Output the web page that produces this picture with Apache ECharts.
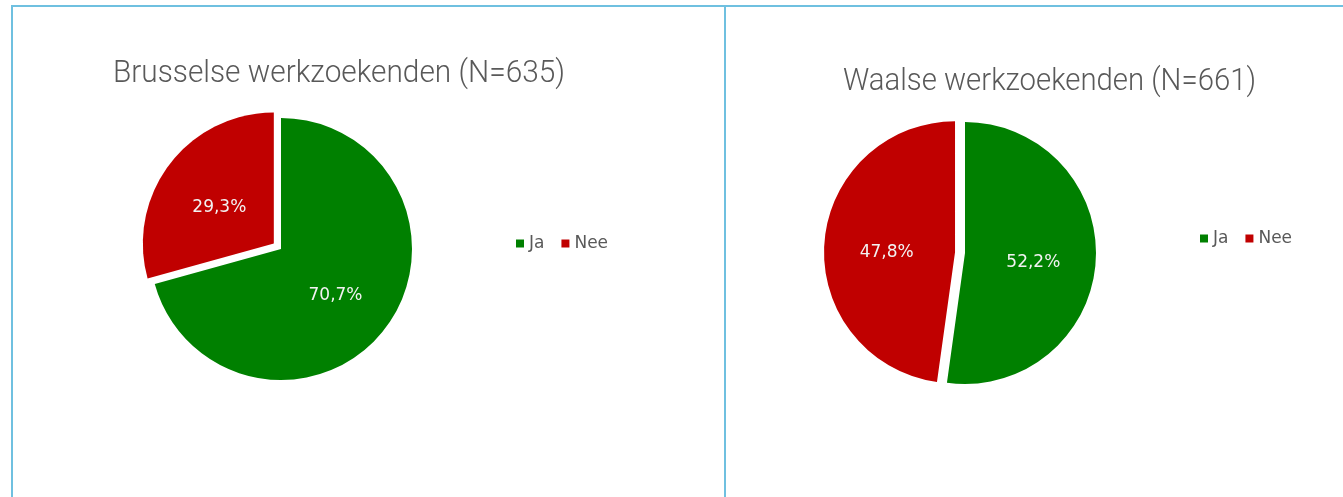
<!DOCTYPE html>
<html>
<head>
<meta charset="utf-8">
<script src="https://cdn.jsdelivr.net/npm/echarts@6/dist/echarts.min.js"></script>
<style>
  html, body { margin: 0; padding: 0; background: #fff; }
  #chart { width: 1343px; height: 497px; }
</style>
</head>
<body>
<div id="chart"></div>
<script>
// data
const categories = ['Ja', 'Nee']
const brusselsValues = [70.7, 29.3]
const walloonValues = [52.2, 47.8]
const titles = ['Brusselse werkzoekenden (N=635)', 'Waalse werkzoekenden (N=661)']
const sliceColors = ['#008000', '#c00000']

const chart = echarts.init(document.getElementById('chart'))

const titleFont = '300 32px Roboto'
const legendText = { color: '#595959', fontSize: 17, fontFamily: 'DejaVu Sans' }
const borderColor = '#6fc0e0'

// the Excel title font is condensed, squeeze Roboto Light to the same width
const ctx = document.createElement('canvas').getContext('2d')
ctx.font = titleFont
function titleText(text, cx, cy, width) {
  const w = ctx.measureText(text).width
  return {
    type: 'text',
    x: cx,
    y: cy,
    scaleX: width / w,
    silent: true,
    style: { text: text, font: titleFont, fill: '#595959', align: 'center', verticalAlign: 'middle' }
  }
}

// one pie per panel, Nee slice pulled out like in Excel
function pieSeries(values, center, offset) {
  return {
    type: 'pie',
    center: center,
    radius: 131,
    startAngle: 90,
    clockwise: true,
    selectedMode: 'multiple',
    selectedOffset: offset,
    silent: true,
    label: {
      show: true,
      position: 'inside',
      formatter: p => p.value.toFixed(1).replace('.', ',') + '%',
      color: '#f2f2f2',
      fontSize: 17,
      fontFamily: 'DejaVu Sans'
    },
    labelLayout: { dy: 5 },
    labelLine: { show: false },
    emphasis: { disabled: true },
    data: categories.map((c, i) => ({
      name: c,
      value: values[i],
      selected: i === 1,
      itemStyle: { color: sliceColors[i] }
    }))
  }
}

const legendBase = { data: categories, icon: 'rect', itemWidth: 8, itemHeight: 8, itemGap: 17, textStyle: legendText, selectedMode: false }

chart.setOption({
  animation: false,
  legend: [
    Object.assign({ left: 511, top: 230 }, legendBase),
    Object.assign({ left: 1195, top: 225 }, legendBase)
  ],
  series: [
    pieSeries(brusselsValues, [281, 249], 9),
    pieSeries(walloonValues, [965, 253], 10)
  ],
  graphic: [
    titleText(titles[0], 339, 74, 452),
    titleText(titles[1], 1049.5, 82, 413),
    { type: 'line', silent: true, shape: { x1: 11, y1: 6, x2: 1343, y2: 6 }, style: { stroke: borderColor, lineWidth: 2 } },
    { type: 'line', silent: true, shape: { x1: 12, y1: 5, x2: 12, y2: 497 }, style: { stroke: borderColor, lineWidth: 2 } },
    { type: 'line', silent: true, shape: { x1: 725, y1: 5, x2: 725, y2: 497 }, style: { stroke: borderColor, lineWidth: 2 } }
  ]
})
</script>
</body>
</html>
